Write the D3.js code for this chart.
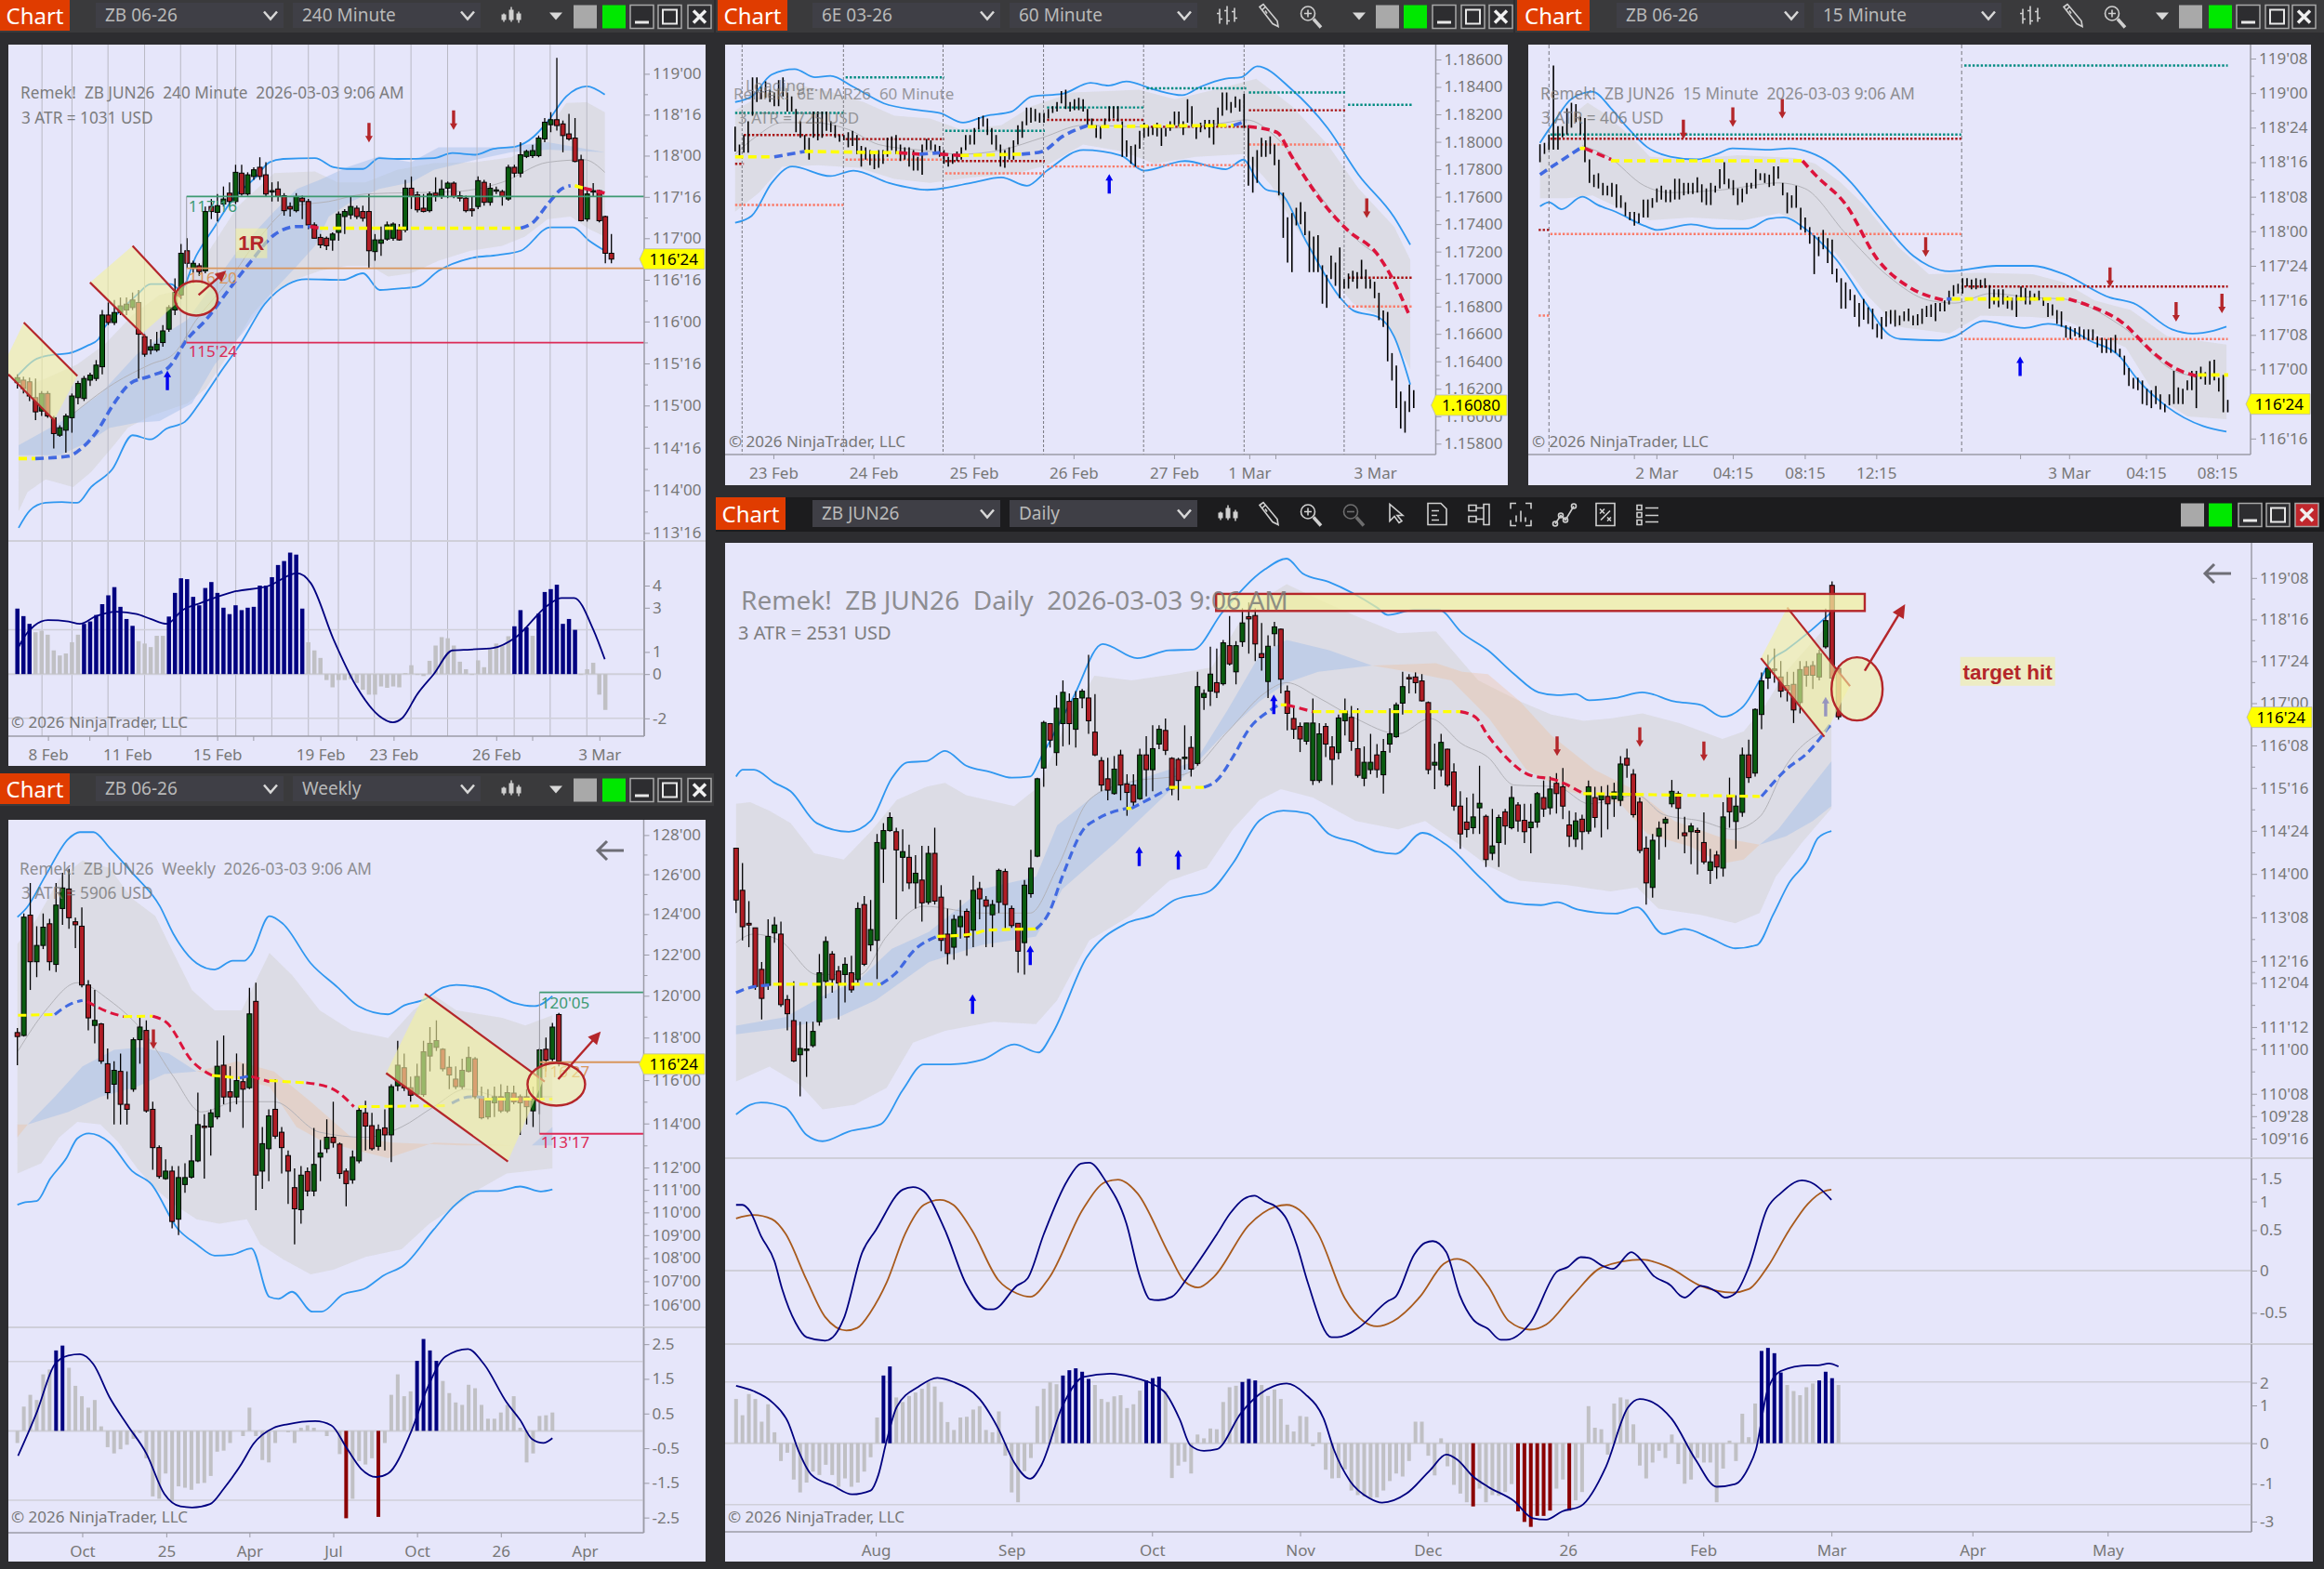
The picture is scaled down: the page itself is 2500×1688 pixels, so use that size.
<!DOCTYPE html>
<html>
<head>
<meta charset="utf-8">
<script src="https://cdn.jsdelivr.net/npm/d3@7"></script>
<style>
html,body{margin:0;padding:0;background:#2d2d30;}
svg{display:block;}
text{font-family:"Noto Sans",sans-serif;}
</style>
</head>
<body>
<svg id="screen" width="2500" height="1688"></svg>
<script>
// ---- 240 minute chart, rows are open, high, low, close
var h4Candles = [[115.30,115.40,115.23,115.36],[115.33,115.37,115.17,115.23],[115.31,115.36,115.08,115.14],[115.12,115.35,114.85,114.95],[114.96,115.20,114.90,115.17],[115.17,115.20,114.88,114.90],[114.88,114.90,114.51,114.69],[114.67,114.79,114.65,114.76],[114.73,114.93,114.46,114.90],[114.88,115.17,114.70,115.14],[115.12,115.32,115.04,115.29],[115.11,115.38,115.08,115.35],[115.33,115.42,115.26,115.39],[115.35,115.57,115.32,115.51],[115.49,116.17,115.40,116.11],[116.11,116.26,115.99,116.02],[116.02,116.29,115.99,116.14],[116.14,116.32,116.11,116.22],[116.17,116.32,116.11,116.24],[116.20,116.38,116.17,116.29],[116.26,116.41,115.35,115.88],[115.85,115.88,115.61,115.64],[115.69,115.82,115.64,115.73],[115.69,115.91,115.67,115.76],[115.78,115.99,115.73,115.92],[115.94,116.23,115.91,116.20],[116.17,116.55,116.11,116.38],[116.35,116.96,116.30,116.85],[116.88,117.03,116.67,116.73],[116.67,116.76,116.61,116.73],[116.70,116.73,116.58,116.63],[116.64,117.41,116.61,117.35],[117.41,117.50,117.26,117.35],[117.34,117.56,117.23,117.42],[117.44,117.65,117.41,117.50],[117.57,117.70,117.41,117.47],[117.47,117.91,117.44,117.82],[117.81,117.91,117.54,117.56],[117.56,117.82,117.54,117.79],[117.77,117.88,117.73,117.85],[117.88,118.00,117.73,117.77],[117.79,117.94,117.53,117.56],[117.59,117.70,117.47,117.60],[117.62,117.71,117.47,117.53],[117.54,117.57,117.30,117.36],[117.41,117.46,117.29,117.38],[117.36,117.57,117.34,117.53],[117.51,117.54,117.26,117.47],[117.47,117.50,117.14,117.19],[117.19,117.22,117.03,117.03],[117.04,117.08,116.91,116.95],[117.03,117.05,116.89,116.94],[117.01,117.10,116.88,117.08],[117.10,117.35,117.00,117.32],[117.29,117.38,117.08,117.35],[117.31,117.53,117.26,117.41],[117.39,117.42,117.26,117.29],[117.35,117.42,117.23,117.27],[117.35,117.56,116.67,116.88],[116.87,117.08,116.76,117.01],[116.97,117.17,116.82,117.01],[117.02,117.23,117.00,117.19],[117.03,117.22,117.00,117.20],[117.13,117.20,117.00,117.01],[117.13,117.73,117.10,117.63],[117.63,117.77,117.38,117.53],[117.55,117.59,117.34,117.37],[117.39,117.56,117.34,117.35],[117.36,117.59,117.34,117.56],[117.57,117.76,117.47,117.54],[117.53,117.73,117.50,117.62],[117.63,117.71,117.51,117.69],[117.69,117.71,117.51,117.53],[117.54,117.59,117.47,117.51],[117.51,117.54,117.34,117.36],[117.38,117.53,117.29,117.36],[117.41,117.77,117.38,117.72],[117.70,117.73,117.42,117.46],[117.46,117.69,117.42,117.63],[117.60,117.65,117.56,117.61],[117.59,117.61,117.42,117.53],[117.50,117.91,117.48,117.88],[117.88,117.91,117.76,117.81],[117.81,118.18,117.76,118.03],[118.01,118.09,117.99,118.07],[118.02,118.15,117.99,118.08],[118.02,118.26,118.00,118.23],[118.22,118.47,118.18,118.42],[118.39,118.54,118.30,118.45],[118.45,119.19,118.32,118.38],[118.40,118.44,118.06,118.26],[118.28,118.52,118.20,118.22],[118.23,118.47,117.94,117.95],[117.97,118.03,117.23,117.24],[117.26,117.62,117.23,117.56],[117.59,117.69,117.53,117.60],[117.60,117.61,117.22,117.24],[117.29,117.30,116.73,116.85],[116.85,117.08,116.73,116.78]];
var h4Upper = [[0,115.38],[2.8,115.57],[5.5,115.63],[8.5,115.65],[11.6,115.74],[13.5,115.82],[14.6,115.97],[16.9,116.14],[19.9,116.35],[22.2,116.48],[25.6,116.48],[27.2,116.41],[29.8,116.82],[32.9,117.17],[35.9,117.5],[39.7,117.76],[42,117.94],[44.3,117.98],[49.6,117.99],[52.7,117.88],[54.9,117.86],[57.6,117.86],[60.3,117.99],[63.3,117.98],[69.4,117.99],[72.5,118.05],[76.3,118.03],[79.3,118.1],[83.1,118.13],[86.1,118.25],[88.4,118.43],[91.5,118.73],[94.9,118.85],[97.9,118.75]];
var h4Lower = [[0.2,113.56],[2.1,113.77],[4.7,113.86],[7.4,113.87],[10,113.86],[12.3,114.05],[15.8,114.26],[19.2,114.67],[22.2,114.62],[24.9,114.75],[27.9,114.83],[30.6,115.08],[33.6,115.4],[37.4,115.79],[41.2,116.24],[45.1,116.48],[48.1,116.54],[54.2,116.53],[57.6,116.61],[60.4,116.41],[64.1,116.43],[66.7,116.45],[70.2,116.64],[75.5,116.79],[80.1,116.83],[83.9,116.88],[88.8,117.16],[92.6,117.16],[95.3,117],[97.9,116.88]];
var h4GrayTop = [[0.2,115.23],[4.7,115.35],[10,115.52],[14.6,115.76],[19.2,116.11],[23.7,116.35],[27.5,116.41],[31.4,116.82],[36.7,117.41],[42.8,117.81],[49.6,117.83],[53.4,117.7],[58,117.7],[63.3,117.85],[69.4,117.93],[76.3,117.94],[82.3,118],[86.9,118.18],[91.5,118.65],[94.9,118.66],[97.9,118.54]];
var h4GrayBot = [[0.2,113.76],[1.7,113.99],[4.7,114.14],[9.3,114.05],[12.3,114.23],[16.1,114.55],[18.4,114.76],[22.2,114.9],[28.3,115.05],[31.4,115.23],[35.2,115.64],[39,116.11],[42,116.35],[45.8,116.52],[50.4,116.64],[54.9,116.7],[58.8,116.7],[61.8,116.57],[65.6,116.61],[70.2,116.76],[75.5,116.88],[80.8,116.94],[84.6,117.05],[88.4,117.26],[92.2,117.29],[95.3,117.14],[97.9,117.05]];
var h4BlueTop = [[0.2,114.55],[7,114.82],[13.9,115.17],[19.9,115.64],[24.5,115.88],[28.3,116.05],[36.7,116.88],[42.8,117.35],[46.6,117.62],[50.4,117.73],[54.9,117.88],[60.3,118.01],[65.6,117.94],[70.2,118.12],[80.8,118.12],[88.4,118.18],[97.9,118.06]];
var h4BlueBot = [[0.2,114.43],[7,114.43],[11.6,114.58],[15.4,114.76],[19.9,114.82],[23.7,114.84],[29.1,115.05],[32.9,115.52],[37.4,115.88],[42.8,116.41],[46.6,116.7],[49.6,116.94],[51.9,117.29],[55.7,117.47],[60.3,117.62],[65.6,117.7],[69.4,117.85],[76.3,117.97],[82.3,118.06],[88.4,118.09],[97.9,118.06]];
var h4Mid = [["flat",[[0.2,114.39],[3,114.39]]],["up",[[3,114.39],[8.5,114.42],[10.8,114.52],[13.1,114.7],[16.1,115.05],[18.8,115.29],[22.2,115.38],[25.3,115.49],[28.3,115.82],[31.4,116.05],[35.2,116.41],[39,116.76],[42.8,117.07],[46.6,117.17],[48.8,117.17]]],["down",[[48.8,117.17],[50.4,117.15]]],["flat",[[50.4,117.15],[83.9,117.15]]],["up",[[83.9,117.15],[86.1,117.23],[88.4,117.44],[90.7,117.62],[92.2,117.66]]],["flat",[[92.9,117.66],[94.4,117.63]]],["down",[[94.4,117.63],[97.9,117.57]]]];
var h4Sma = [[8.5,114.88],[16.1,115.29],[22.2,115.52],[26,115.64],[29.8,116.05],[35.2,116.52],[40.5,117.05],[45.8,117.41],[51.9,117.47],[58,117.56],[73.2,117.59],[80.8,117.7],[88.4,117.94],[94.5,117.97],[97.9,117.82]];
var h4Hist = [2.96,2.62,2.27,1.89,1.96,1.78,1.07,0.84,0.93,1.44,1.78,2.27,2.38,2.67,3.16,3.56,3.93,3.04,2.49,2.18,1.49,1.38,1.22,1.73,1.73,2.6,3.67,4.33,4.29,3.49,3.11,3.89,4.16,3.67,3,2.71,3.11,2.89,3,3.04,4,4,4.38,4.93,5.11,5.49,5.4,2.96,1.44,1.07,0.73,-0.27,-0.6,-0.27,-0.27,-0.22,-0.4,-0.71,-0.93,-0.93,-0.56,-0.62,-0.56,-0.6,0.04,0.4,-0.04,-0.09,0.6,1.29,1.67,1.62,1.29,0.56,0.22,-0.04,0.62,0.31,1.11,1.38,1.29,1.71,2.16,2.89,2.11,1.73,2.73,3.71,3.84,4.04,2.27,2.49,2,-0.04,0.22,0.51,-0.93,-1.62];
var h4HistUp = [0,1,2,11,12,13,14,15,16,17,18,19,25,26,27,28,29,30,31,32,33,34,35,36,37,38,39,40,41,42,43,44,45,46,47,82,83,84,86,87,88,89,90,91,92];
var h4Line = [[0,1.11],[1.1,1.67],[2.8,2.18],[5.1,2.44],[8.5,2.38],[10.4,2.27],[13.1,2.62],[16.5,2.82],[19.9,2.71],[22.2,2.49],[24.9,2.27],[27.5,2.89],[30.6,3.22],[35.9,3.71],[42,4],[46.6,4.56],[48.9,4.11],[52.7,1.56],[56.5,-0.56],[60.3,-1.89],[62.6,-2.18],[64.1,-2],[66.7,-0.89],[69.4,0],[72.5,1.07],[75.5,1.11],[79.3,1.18],[83.1,1.67],[88.4,3.11],[90.7,3.44],[92.8,3.44],[96,2],[97.9,0.67]];
var h4Ticks = [119,118.5,118,117.5,117,116.5,116,115.5,115,114.5,114,113.5];
var h4TickLabels = ["119'00","118'16","118'00","117'16","117'00","116'16","116'00","115'16","115'00","114'16","114'00","113'16"];
var h4XTicks = [5.1,12,18.3,33.3,39.3,50.5,56.5,62.7,79.8,85.8,97];
var h4XLabels = ["8 Feb","","11 Feb","15 Feb","","19 Feb","","23 Feb","26 Feb","","3 Mar"];
var h4Sessions = [4.1,9.1,15.1,21.2,27.2,33.3,36.4,42.4,48.5,53.5,59.5,65.6,71.7,76.6,82.8,88.8,94.9];

// ---- 60 minute chart, rows are high, low
var m60Bars = [[1.1811,1.1793],[1.1798,1.1789],[1.1805,1.1792],[1.1815,1.1792],[1.1847,1.1819],[1.1847,1.1829],[1.1840,1.1831],[1.1844,1.1832],[1.1838,1.1829],[1.1836,1.1826],[1.1845,1.1826],[1.1847,1.1833],[1.1836,1.1822],[1.1833,1.1822],[1.1824,1.1807],[1.1815,1.1803],[1.1805,1.1794],[1.1803,1.1787],[1.1822,1.1803],[1.1822,1.1801],[1.1822,1.1803],[1.1822,1.1808],[1.1815,1.1807],[1.1812,1.1803],[1.1805,1.1800],[1.1805,1.1801],[1.1807,1.1796],[1.1808,1.1797],[1.1805,1.1791],[1.1797,1.1782],[1.1796,1.1787],[1.1794,1.1783],[1.1791,1.1780],[1.1794,1.1781],[1.1794,1.1784],[1.1803,1.1789],[1.1804,1.1794],[1.1805,1.1791],[1.1798,1.1786],[1.1796,1.1787],[1.1796,1.1782],[1.1794,1.1779],[1.1789,1.1779],[1.1798,1.1776],[1.1802,1.1794],[1.1801,1.1794],[1.1798,1.1791],[1.1797,1.1789],[1.1794,1.1784],[1.1789,1.1782],[1.1791,1.1784],[1.1793,1.1786],[1.1796,1.1787],[1.1805,1.1794],[1.1805,1.1798],[1.1810,1.1798],[1.1818,1.1809],[1.1819,1.1811],[1.1817,1.1805],[1.1810,1.1798],[1.1805,1.1794],[1.1798,1.1782],[1.1794,1.1781],[1.1796,1.1787],[1.1801,1.1787],[1.1812,1.1798],[1.1815,1.1803],[1.1825,1.1812],[1.1825,1.1814],[1.1824,1.1815],[1.1821,1.1814],[1.1821,1.1814],[1.1824,1.1817],[1.1826,1.1821],[1.1829,1.1822],[1.1837,1.1828],[1.1838,1.1824],[1.1829,1.1822],[1.1831,1.1823],[1.1832,1.1823],[1.1831,1.1822],[1.1824,1.1812],[1.1817,1.1810],[1.1812,1.1803],[1.1811,1.1802],[1.1817,1.1810],[1.1826,1.1815],[1.1826,1.1817],[1.1826,1.1815],[1.1815,1.1789],[1.1801,1.1789],[1.1797,1.1784],[1.1798,1.1782],[1.1808,1.1795],[1.1814,1.1803],[1.1811,1.1804],[1.1811,1.1805],[1.1814,1.1804],[1.1810,1.1797],[1.1810,1.1804],[1.1815,1.1808],[1.1822,1.1812],[1.1822,1.1811],[1.1815,1.1805],[1.1831,1.1814],[1.1826,1.1811],[1.1812,1.1802],[1.1814,1.1807],[1.1816,1.1809],[1.1816,1.1803],[1.1816,1.1798],[1.1825,1.1811],[1.1836,1.1819],[1.1836,1.1823],[1.1829,1.1821],[1.1833,1.1825],[1.1831,1.1822],[1.1835,1.1810],[1.1812,1.1768],[1.1789,1.1763],[1.1794,1.1770],[1.1803,1.1789],[1.1801,1.1789],[1.1804,1.1791],[1.1798,1.1783],[1.1787,1.1761],[1.1763,1.1730],[1.1745,1.1712],[1.1748,1.1705],[1.1752,1.1739],[1.1756,1.1740],[1.1749,1.1732],[1.1735,1.1705],[1.1731,1.1705],[1.1732,1.1705],[1.1710,1.1682],[1.1703,1.1679],[1.1717,1.1700],[1.1712,1.1695],[1.1723,1.1686],[1.1700,1.1693],[1.1704,1.1693],[1.1706,1.1698],[1.1705,1.1693],[1.1714,1.1700],[1.1707,1.1693],[1.1700,1.1693],[1.1698,1.1686],[1.1690,1.1670],[1.1677,1.1665],[1.1676,1.1640],[1.1646,1.1626],[1.1637,1.1606],[1.1618,1.1591],[1.1611,1.1588],[1.1623,1.1603],[1.1619,1.1606]];
var m60Upper = [[0,1.1829],[3.8,1.1833],[8.4,1.1849],[13.7,1.1853],[18.4,1.1847],[21.9,1.1848],[27.2,1.1840],[34.2,1.1828],[42.4,1.1823],[47.1,1.1821],[52.4,1.1814],[57.7,1.1819],[63.5,1.1822],[68.2,1.1833],[75.3,1.1835],[81.7,1.1843],[85.8,1.1841],[89.9,1.1844],[96.4,1.1838],[102.8,1.1834],[106.9,1.1840],[112.8,1.1846],[116.3,1.1847],[120,1.1855],[128,1.1838],[136.2,1.1810],[143.3,1.1776],[151.5,1.1745],[155.2,1.1725]];
var m60Lower = [[0,1.1741],[3.8,1.1746],[8.4,1.1770],[13.1,1.1782],[21.9,1.1775],[27.2,1.1779],[35.4,1.1770],[44.2,1.1765],[54.2,1.1770],[61.2,1.1774],[67.1,1.1768],[71.7,1.1779],[80,1.1794],[88.7,1.1790],[94,1.1779],[103.4,1.1786],[112.8,1.1780],[116.9,1.1787],[119.8,1.1773],[122.2,1.1765],[125.1,1.1763],[131.5,1.1726],[139.2,1.1686],[142.1,1.1677],[148,1.1672],[151.5,1.1658],[155.2,1.1623]];
var m60GrayTop = [[0,1.1823],[8.4,1.1838],[13.7,1.1842],[22.5,1.1836],[29.5,1.1829],[36.6,1.1819],[44.8,1.1817],[51.8,1.1809],[61.2,1.1812],[68.2,1.1826],[77.6,1.1836],[85.8,1.1837],[92.8,1.1838],[101.1,1.1831],[111.6,1.1839],[119.8,1.1846],[128,1.1826],[136.2,1.1798],[143.3,1.1766],[151.5,1.1738],[155.2,1.1714]];
var m60GrayBot = [[0,1.1749],[5.5,1.1763],[10.8,1.1782],[19,1.1783],[28.4,1.1781],[36.6,1.1773],[44.8,1.1770],[54.2,1.1774],[64.7,1.1777],[71.7,1.1783],[80,1.1798],[89.3,1.1793],[96.4,1.1784],[105.7,1.1789],[116.9,1.1791],[123.3,1.1768],[128,1.1742],[133.9,1.1714],[142.1,1.1682],[149.1,1.1672],[155.2,1.1634]];
var m60Mid = [["flat",[[0,1.1789],[9,1.1789]]],["up",[[9,1.1789],[16,1.1793]]],["flat",[[16,1.1793],[37.7,1.1792]]],["down",[[37.7,1.1792],[42.4,1.1791]]],["up",[[42.4,1.1791],[47.1,1.1792]]],["down",[[47.1,1.1791],[51.8,1.1790]]],["flat",[[51.8,1.1790],[65.9,1.1791]]],["up",[[65.9,1.1791],[70.6,1.1793],[75.3,1.1804],[81.1,1.1812]]],["flat",[[81.1,1.1811],[114.6,1.1812]]],["up",[[114.6,1.1812],[117.5,1.1815]]],["down",[[118,1.1811],[124.5,1.1807],[128,1.1789],[135,1.1756],[141,1.1735],[147.4,1.1719],[150.3,1.1705],[155.2,1.1672]]]];
var m60Sma = [[0,1.1791],[4.9,1.1804],[10.8,1.1814],[17.8,1.1814],[26,1.1809],[33,1.1798],[42.4,1.1794],[51.8,1.1791],[61.2,1.1794],[70.6,1.1803],[80,1.1812],[91.7,1.1811],[101.1,1.1810],[112.8,1.1814],[117.5,1.1816],[124.5,1.1803],[133.9,1.1763],[142.1,1.1731],[148,1.1717]];
var m60Levels = [["high",25.4,48.1,1.1847],["high",0,24.9,1.1821],["high",48.3,71.2,1.1808],["high",71.7,94,1.1825],["high",94.6,117.5,1.1839],["high",118.1,140.3,1.1836],["high",140.9,155.6,1.1827],["pivot",0,2,1.1784],["pivot",2,24.9,1.1805],["pivot",25.4,48.1,1.1802],["pivot",48.3,71.2,1.1786],["pivot",71.7,94,1.1816],["pivot",94.6,117.5,1.1811],["pivot",118.1,140.3,1.1823],["pivot",140.9,155.6,1.1701],["low",0,24.9,1.1754],["low",25.4,48.1,1.1787],["low",48.3,71.2,1.1777],["low",71.7,94,1.1782],["low",94.6,117.5,1.1783],["low",118.1,140.3,1.1798],["low",140.9,155.6,1.1680]];
var m60Ticks = [1.186,1.184,1.182,1.18,1.178,1.176,1.174,1.172,1.17,1.168,1.166,1.164,1.162,1.16,1.158];
var m60TickLabels = ["1.18600","1.18400","1.18200","1.18000","1.17800","1.17600","1.17400","1.17200","1.17000","1.16800","1.16600","1.16400","1.16200","1.16000","1.15800"];
var m60XTicks = [8.8,31.8,54.9,77.8,100.9,118.2,124.2,147.1];
var m60XLabels = ["23 Feb","24 Feb","25 Feb","26 Feb","27 Feb","1 Mar","","3 Mar"];
var m60Sessions = [1.6,24.9,47.8,70.9,93.9,117,140];
var m60ArrowsUp = [[86,1.1769]];
var m60ArrowsDown = [[145.2,1.1752]];

// ---- 15 minute chart, rows are high, low
var m15Bars = [[118.63,118.50],[118.64,118.56],[118.70,118.59],[119.20,118.59],[118.76,118.59],[118.76,118.68],[118.89,118.70],[118.93,118.75],[118.92,118.79],[118.83,118.70],[118.82,118.50],[118.52,118.35],[118.41,118.32],[118.42,118.31],[118.35,118.26],[118.33,118.26],[118.35,118.25],[118.34,118.17],[118.26,118.17],[118.21,118.11],[118.14,118.08],[118.14,118.04],[118.13,118.06],[118.23,118.10],[118.23,118.10],[118.24,118.17],[118.31,118.21],[118.33,118.23],[118.30,118.21],[118.30,118.21],[118.38,118.23],[118.38,118.23],[118.35,118.26],[118.35,118.27],[118.35,118.27],[118.39,118.28],[118.34,118.21],[118.31,118.19],[118.35,118.19],[118.33,118.28],[118.45,118.31],[118.50,118.34],[118.38,118.31],[118.37,118.26],[118.31,118.19],[118.31,118.21],[118.35,118.27],[118.35,118.31],[118.45,118.31],[118.42,118.37],[118.42,118.35],[118.41,118.32],[118.47,118.33],[118.47,118.38],[118.35,118.26],[118.28,118.13],[118.26,118.17],[118.33,118.17],[118.17,118.01],[118.10,117.99],[118.03,117.91],[117.97,117.69],[117.96,117.82],[118.01,117.87],[117.95,117.77],[117.94,117.69],[117.73,117.63],[117.66,117.44],[117.63,117.44],[117.58,117.50],[117.54,117.38],[117.48,117.31],[117.51,117.36],[117.45,117.33],[117.44,117.29],[117.33,117.23],[117.38,117.22],[117.42,117.31],[117.43,117.33],[117.43,117.31],[117.39,117.32],[117.42,117.35],[117.44,117.35],[117.39,117.32],[117.40,117.32],[117.44,117.33],[117.46,117.38],[117.47,117.38],[117.48,117.35],[117.48,117.42],[117.50,117.42],[117.57,117.47],[117.61,117.53],[117.62,117.55],[117.66,117.55],[117.66,117.60],[117.65,117.58],[117.66,117.58],[117.65,117.59],[117.66,117.59],[117.61,117.44],[117.58,117.47],[117.58,117.45],[117.58,117.47],[117.53,117.44],[117.52,117.43],[117.54,117.38],[117.60,117.50],[117.59,117.47],[117.57,117.47],[117.55,117.50],[117.57,117.50],[117.52,117.46],[117.48,117.38],[117.47,117.39],[117.43,117.33],[117.42,117.31],[117.32,117.23],[117.31,117.22],[117.30,117.24],[117.31,117.23],[117.29,117.22],[117.29,117.21],[117.29,117.21],[117.24,117.16],[117.23,117.12],[117.22,117.12],[117.23,117.12],[117.25,117.12],[117.15,117.09],[117.10,116.96],[117.01,116.88],[116.94,116.86],[116.94,116.85],[116.92,116.75],[116.86,116.74],[116.85,116.72],[116.88,116.75],[116.82,116.71],[116.75,116.69],[116.82,116.74],[116.99,116.75],[116.87,116.75],[116.86,116.75],[116.92,116.85],[116.99,116.85],[116.99,116.72],[117.02,116.93],[116.98,116.89],[117.06,116.89],[117.07,116.92],[116.94,116.84],[116.96,116.69],[116.78,116.69]];
var m15Upper = [[0,118.64],[3.1,118.79],[7.1,118.96],[11.7,119.01],[15.8,118.89],[19.2,118.76],[23.8,118.61],[29,118.54],[34.8,118.52],[39.4,118.56],[42.8,118.6],[50.9,118.59],[55.5,118.6],[60.1,118.57],[64.7,118.49],[69.3,118.35],[75,118.12],[83.1,117.82],[86.5,117.75],[91.1,117.71],[101.5,117.75],[109.6,117.75],[116.5,117.69],[126.8,117.52],[132,117.48],[140.6,117.29],[145.2,117.26],[149.8,117.28],[152.7,117.31]];
var m15Lower = [[0,118.18],[2,118.21],[4.8,118.16],[9.4,118.25],[12.9,118.19],[16.9,118.14],[23.2,118.04],[26.1,118.01],[33.6,118.05],[39.4,118.02],[46.3,118.02],[50.9,118.09],[54.3,118.1],[58.9,118.02],[65.8,117.8],[72.7,117.47],[77.3,117.26],[80.2,117.22],[88.8,117.21],[92.3,117.24],[98.6,117.35],[107.8,117.3],[113,117.33],[116.5,117.31],[122.2,117.21],[129.1,117.09],[132.6,116.94],[139.5,116.73],[147.5,116.59],[152.7,116.55]];
var m15GrayTop = [[0,118.52],[3.7,118.75],[10.6,118.93],[14,118.86],[19.8,118.7],[24.4,118.54],[32.5,118.52],[44,118.55],[56.6,118.53],[61.2,118.49],[67,118.35],[72.7,118.17],[79.6,117.89],[86.5,117.69],[98,117.7],[109.6,117.69],[116.5,117.63],[123.4,117.5],[131.4,117.43],[139.5,117.24],[152.7,117.18]];
var m15GrayBot = [[0,118.24],[6,118.24],[11.7,118.26],[17.5,118.17],[24.4,118.08],[33.6,118.1],[45.1,118.08],[53.2,118.13],[58.9,118.06],[65.8,117.84],[72.7,117.54],[79.6,117.31],[91.1,117.26],[98,117.39],[109.6,117.38],[116.5,117.36],[123.4,117.26],[130.3,117.16],[137.2,116.8],[144.1,116.66],[152.7,116.64]];
var m15Mid = [["up",[[0,118.41],[3.7,118.49],[8.9,118.6]]],["flat",[[8.9,118.6],[10,118.6]]],["down",[[10,118.6],[15.8,118.52]]],["flat",[[15.8,118.51],[58.4,118.51]]],["down",[[58.4,118.51],[61.2,118.41],[68.1,118.19],[75,117.8],[81.9,117.6],[90,117.5]]],["up",[[90.5,117.51],[91.6,117.51]]],["flat",[[91.6,117.51],[117.6,117.51]]],["down",[[117.6,117.51],[122.2,117.46],[129.1,117.35],[137.2,117.1],[141.8,117],[146.4,116.95]]],["flat",[[146.4,116.96],[153.1,116.96]]]];
var m15Sma = [[9.4,118.62],[15.2,118.54],[23.2,118.33],[29,118.28],[40.5,118.3],[53.2,118.35],[58.9,118.31],[68.1,117.98],[77.3,117.68],[86.5,117.5],[92.3,117.48],[100.3,117.55],[109.6,117.52],[116.5,117.51],[129.1,117.32],[141.8,116.98],[146.4,116.95]];
var m15Levels = [["high",94.4,153,119.2],["high",2.3,93.7,118.7],["pivot",2.3,93.7,118.67],["pivot",94.4,153,117.6],["pivot",-0.3,2,118.01],["low",2.3,93.7,117.98],["low",94.4,153,117.22],["low",-0.3,2,117.39]];
var m15Ticks = [119.25,119,118.75,118.5,118.25,118,117.75,117.5,117.25,117,116.5];
var m15TickLabels = ["119'08","119'00","118'24","118'16","118'08","118'00","117'24","117'16","117'08","117'00","116'16"];
var m15XTicks = [20.9,25.9,42.9,58.9,74.8,106.8,117.7,134.8,150.6];
var m15XLabels = ["","2 Mar","04:15","08:15","12:15","","3 Mar","04:15","08:15"];
var m15Sessions = [2,93.8];
var m15ArrowsUp = [[106.8,117.02]];
var m15ArrowsDown = [[31.9,118.74],[42.9,118.83],[53.9,118.89],[85.8,117.89],[126.8,117.67],[141.5,117.42],[151.7,117.48]];

// ---- weekly chart
var wkCandles = [[118.24,118.46,116.70,118.05],[118.10,124.03,118.05,123.85],[123.95,125.56,120.28,121.65],[121.65,123.4,120.9,122.45],[122.45,124.03,122.27,123.35],[123.52,123.77,121.22,121.65],[121.52,125.56,121.15,124.45],[124.28,126.08,123.47,125.31],[125.26,126.28,123.27,123.82],[123.62,123.82,122.32,123.47],[123.40,124.33,120.4,120.52],[120.52,120.75,118.35,118.94],[118.58,120.28,117.73,118.82],[118.65,118.7,116.77,116.89],[116.77,117.49,115.12,115.42],[115.81,116.89,113.95,116.46],[116.41,117.25,113.95,114.88],[114.88,116.41,113.95,114.65],[115.58,118.0,115.46,117.9],[117.9,118.94,116.77,118.5],[118.34,118.82,114.5,114.58],[114.65,115.0,111.9,112.9],[112.9,113.0,111.5,111.6],[111.5,112.37,111.45,111.84],[111.84,112.07,109.3,109.6],[109.7,112.07,109.0,111.55],[111.24,112.19,110.87,111.55],[111.57,113.48,111.5,112.3],[112.3,115.42,112.24,113.95],[113.88,114.42,111.5,113.84],[113.84,114.65,112.54,114.49],[114.3,117.86,114.19,116.65],[116.7,118.1,114.88,115.22],[115.46,116.65,114.53,115.22],[115.22,117.25,114.88,115.98],[115.93,116.77,113.8,115.58],[115.65,120.38,115.58,119.13],[119.73,120.63,110.1,111.66],[111.84,113.84,111.05,113.08],[112.85,114.65,111.39,114.35],[114.65,116.05,113.3,113.42],[113.6,113.84,111.73,112.9],[112.54,112.77,110.38,111.84],[111.1,111.96,108.6,110.16],[110.12,112.07,109.5,111.66],[111.82,112.0,110.72,110.95],[110.95,113.8,110.72,112.14],[112.47,113.25,111.39,112.66],[112.85,114.19,112.66,113.37],[113.37,115.0,112.9,113.13],[113.06,113.13,111.5,111.73],[111.84,111.96,110.27,111.28],[111.45,112.77,111.28,112.47],[112.3,114.77,112.19,114.6],[114.49,115.05,112.77,113.88],[113.9,114.49,112.77,112.85],[112.96,113.95,112.77,113.72],[113.8,114.65,112.77,113.48],[113.48,115.81,112.24,115.7],[115.74,117.85,115.5,116.7],[116.58,117.25,115.5,115.65],[115.65,116.17,115.0,115.3],[115.35,116.77,115.23,116.17],[115.33,117.85,115.23,117.33],[117.13,118.5,116.41,117.73],[117.54,118.82,117.37,117.86],[117.45,117.5,116.41,116.53],[116.6,117.13,115.58,116.24],[116.05,116.65,115.58,115.7],[115.7,117.0,115.58,116.46],[116.41,117.57,116.36,117.06],[117.0,117.08,115.12,115.23],[115.23,115.7,114.19,114.26],[114.3,115.58,114.19,115.05],[114.95,115.7,114.3,115.23],[115.23,115.81,114.49,114.58],[114.58,115.74,114.49,115.42],[115.4,115.74,114.88,115.0],[115.23,115.33,113.48,114.95],[115.23,115.58,113.95,114.77],[114.58,115.7,113.84,115.12],[115.12,117.5,114.42,117.42],[117.45,118.0,116.41,116.94],[116.99,118.7,116.89,118.5],[119.1,119.18,116.65,116.89]];
var wkUpper = [[0,123.85],[1.4,124.3],[4.4,125.95],[7.9,127.8],[9.7,128.15],[11.8,128.15],[14.3,127.35],[17.8,126.08],[22.1,124.4],[24.2,123.02],[27.8,121.58],[30.6,121.27],[33.4,121.7],[35.2,121.7],[36.3,122.03],[39.1,123.9],[41.2,123.52],[45.5,121.58],[49.7,120.4],[52.9,119.5],[57.5,119.11],[60,119.54],[63.2,119.83],[66,120.4],[68.1,120.52],[72.7,120.32],[77,119.66],[80.2,119.5],[83,119.98]];
var wkLower = [[0,110.34],[1.2,110.45],[3,110.5],[5.1,111.5],[7.6,112.42],[9.3,113.32],[11.1,113.55],[14.3,113.13],[17.8,111.84],[20.7,111.28],[24.9,109.27],[27.8,108.6],[30.6,108.11],[33.4,108.16],[36.3,108.42],[39.1,106.33],[40.5,106.25],[42.6,106.55],[45.8,105.7],[47.2,105.7],[50.4,106.42],[54,106.7],[56.8,107.25],[60,107.7],[64.6,109.25],[68.1,110.38],[71.7,110.95],[74.5,110.95],[78,111.15],[81.2,110.93],[83,111.02]];
var wkGrayTop = [[0,122.53],[3,123.77],[6.5,125.77],[10.1,126.7],[14.3,126.32],[17.8,124.77],[21.4,123.9],[23.5,122.53],[27.1,120.27],[30.6,119.3],[34.8,119.3],[39.1,122.08],[42.6,121],[46.9,119.3],[51.8,118.34],[57.5,117.98],[61.4,119.3],[64.6,120.02],[68.1,119.3],[75.2,118.94],[78.8,118.58],[83,119.06]];
var wkGrayBot = [[0,111.73],[3.7,112.19],[6.5,113.37],[9.3,114.07],[12.9,113.95],[15.7,113.13],[18.6,111.96],[21.4,111.05],[24.2,110.38],[27.8,109.7],[31.3,109.5],[35.6,109.7],[37.7,108.6],[41.2,107.95],[45.5,107.3],[49,107.5],[54,108.05],[59.6,108.38],[63.9,109.5],[67.4,110.16],[71.7,111.05],[75.9,111.73],[83,111.96]];
var wkBlueClouds = [[[[1.6,113.95],[5.8,115.23],[10.1,116.65],[15,117.42],[19.3,117.54],[23.5,117.25],[27.8,116.41]],[[1.6,113.95],[7.9,114.53],[12.9,115.23],[18.6,115.7],[22.8,116.29],[27.8,116.41]]],[[[79.8,113],[83,113.84]],[[79.8,113],[83,113]]]];
var wkOrangeClouds = [[[[0,113.95],[1.6,113.95]],[[0,113.37],[1.6,113.95]]],[[[27.8,116.41],[34.1,116.89],[39.8,116.41],[45.5,115],[51.8,113.37],[58.2,113.13],[68.8,113],[76.6,113]],[[27.8,116.41],[32.7,116.17],[39.1,115.7],[43.3,113.84],[46.9,113.25],[51.1,112.9],[57.5,112.42],[64.6,113.13],[76.6,113]]]];
var wkMid = [["flat",[[0.1,119.06],[5.8,119.1]]],["up",[[5.8,119.1],[7.9,119.55],[10.1,119.78]]],["down",[[10.8,119.73],[13.7,119.27],[16.5,119]]],["flat",[[16.5,119],[21,119.02]]],["down",[[21,119.02],[23.2,118.7],[27.1,116.89],[30.2,116.22]]],["flat",[[30.2,116.22],[34.5,116.1]]],["up",[[34.5,116.1],[36.3,116.22]]],["down",[[36.3,116.17],[39.1,115.93]]],["flat",[[39.1,115.98],[44.8,115.88]]],["down",[[44.8,115.88],[49,115.58],[52.2,114.77]]],["flat",[[52.9,114.77],[66.7,114.82]]],["up",[[67.4,114.93],[70.3,115.23],[72.4,115.2]]],["flat",[[72.4,115.12],[83,115.12]]]];
var wkSma = [[0.1,117.37],[4.4,119.3],[9.3,120.63],[14.3,119.78],[20,118.1],[24.2,116.17],[28.5,114.53],[34.1,115],[39.8,115],[46.9,113.6],[54,113.37],[59.6,113.84],[64.6,114.77],[69.5,115.58],[75.2,115.23],[83,115.23]];
var wkHist = [-0.35,0.7,1.04,0.89,1.63,1.77,2.32,2.46,1.82,1.3,1,0.67,0.89,0.13,-0.47,-0.65,-0.53,-0.4,-0.23,-0.06,-0.79,-1.89,-1.96,-1.23,-2.04,-1.6,-1.64,-1.7,-1.52,-1.5,-1.3,-0.6,-0.57,-0.35,0,-0.15,0.67,-0.15,-0.84,-0.91,-0.35,0,-0.04,-0.35,0.09,0.16,0.09,0,-0.15,0,-0.67,-2.52,-1.96,-0.87,-0.97,-0.79,-2.48,-0.35,1.04,1.63,1,1.14,2.02,2.65,2.32,2.02,1.44,1.09,0.82,0.75,1.33,1.23,0.75,0.35,0.35,0.53,0.75,1,0.09,-0.91,-0.65,0.43,0.45,0.53];
var wkHistUp = [6,7,62,63,64,65];
var wkHistDown = [51,56];
var wkLine = [[0.1,-0.72],[3,0.53],[5.8,1.92],[7.9,2.17],[9.7,2.21],[11.8,1.92],[14.3,0.97],[17.1,0.16],[20,-0.65],[22.8,-1.82],[25.3,-2.18],[27.1,-2.21],[29.9,-2.11],[32,-1.67],[34.8,-0.94],[36.6,-0.38],[39.8,0.09],[41.9,0.19],[46.2,0.28],[48.7,0.16],[51.1,-0.5],[53.3,-1.09],[55.7,-1.33],[57.5,-1.23],[61,-0.06],[63.5,1.19],[66.4,2.14],[69.9,2.36],[72.4,1.92],[75.9,0.82],[78,0.31],[79.8,-0.23],[81.6,-0.35],[83,-0.21]];
var wkTicks = [128,126,124,122,120,118,116,114,112,111,110,109,108,107,106];
var wkTickLabels = ["128'00","126'00","124'00","122'00","120'00","118'00","116'00","114'00","112'00","111'00","110'00","109'00","108'00","107'00","106'00"];
var wkXTicks = [10.06,23.1,36,49,62,75,88];
var wkXLabels = ["Oct","25","Apr","Jul","Oct","26","Apr"];

// ---- daily chart
var dCandles = [[114.50,114.50,113.36,113.59],[113.76,114.24,112.88,113.12],[113.18,113.57,112.76,113.15],[113.10,113.10,112.01,112.07],[112.37,112.50,111.49,111.86],[112.09,113.25,112.01,112.95],[113.01,113.29,112.84,113.15],[112.99,113.21,111.71,111.75],[111.84,111.92,111.30,111.59],[111.47,112.16,110.74,110.76],[110.87,111.45,110.14,110.98],[110.95,111.45,110.48,110.97],[111.03,111.45,111.0,111.28],[111.45,112.64,111.38,112.31],[112.16,112.95,111.86,112.86],[112.64,112.69,111.96,112.19],[112.34,112.43,111.49,112.13],[112.28,112.58,111.79,112.46],[112.31,112.61,111.96,112.01],[112.19,113.55,112.14,113.44],[113.51,113.66,112.43,112.46],[112.80,113.59,112.69,113.07],[112.88,114.75,112.20,114.60],[114.49,114.94,113.89,114.81],[114.81,115.13,114.79,115.04],[114.79,114.86,113.25,114.47],[114.34,114.83,113.74,114.44],[114.34,114.56,113.78,113.89],[113.89,114.38,113.44,114.06],[113.94,114.54,113.21,113.54],[113.55,114.54,113.51,114.41],[114.41,114.86,113.51,113.57],[113.64,113.85,112.69,112.88],[112.99,113.44,112.46,112.65],[112.76,113.33,112.54,113.25],[113.12,113.59,112.91,113.30],[113.39,113.44,112.61,112.94],[113.06,114.02,112.76,113.76],[113.79,113.91,113.25,113.61],[113.59,113.66,112.76,113.48],[113.33,113.59,112.76,113.51],[113.55,114.14,113.36,114.11],[114.09,114.14,113.09,113.51],[113.44,113.49,113.10,113.14],[113.18,113.18,112.31,112.69],[112.84,113.94,112.28,113.85],[113.70,114.47,113.63,114.15],[114.36,115.74,114.34,115.72],[115.91,116.74,115.58,116.71],[116.69,116.70,116.27,116.40],[116.18,117.19,115.95,116.96],[116.69,117.45,116.29,117.24],[117.08,117.22,116.32,116.69],[116.59,117.26,116.27,117.13],[117.14,117.30,116.96,117.26],[117.14,117.90,116.51,116.74],[116.54,117.21,116.12,116.14],[116.04,116.10,115.50,115.61],[115.72,116.09,115.34,115.52],[115.46,116.12,115.44,115.89],[116.14,116.23,115.34,115.61],[115.63,115.80,115.07,115.48],[115.61,115.80,115.24,115.31],[115.37,116.25,115.35,116.14],[116.14,116.47,115.41,115.88],[115.88,116.66,115.50,116.25],[116.33,116.66,116.24,116.59],[116.57,116.78,116.14,116.22],[116.08,116.10,115.43,115.54],[116.06,116.09,115.34,115.69],[116.09,116.66,115.88,116.10],[116.27,116.47,115.76,115.89],[115.99,117.60,115.95,117.34],[117.15,117.29,116.93,117.22],[117.26,118.04,117.0,117.56],[117.41,118.01,117.14,117.24],[117.39,118.16,117.36,118.11],[118.06,118.58,117.71,117.74],[117.60,118.14,117.38,118.06],[118.13,118.72,118.04,118.46],[118.57,118.82,117.92,118.53],[118.59,118.72,117.79,118.09],[117.92,118.46,117.62,117.85],[117.43,118.24,117.14,118.05],[118.27,118.48,118.05,118.39],[118.35,118.36,117.22,117.47],[117.26,117.36,116.57,116.87],[116.78,117.0,116.42,116.59],[116.64,116.71,116.19,116.42],[116.38,116.70,116.32,116.70],[115.69,117.13,115.61,116.70],[115.69,116.70,115.65,116.51],[116.64,116.70,116.10,116.33],[116.28,116.47,115.61,116.06],[116.18,116.85,116.06,116.79],[116.74,117.13,116.48,116.91],[116.80,117.0,116.21,116.38],[116.25,116.96,115.74,115.78],[115.73,116.29,115.59,116.01],[115.88,116.51,115.80,116.01],[116.14,116.33,115.74,115.88],[115.79,116.42,115.46,116.20],[116.33,116.96,116.18,116.51],[116.46,117.06,116.44,117.02],[117.05,117.60,116.85,117.34],[117.50,117.56,117.22,117.48],[117.51,117.59,117.22,117.41],[117.44,117.56,117.08,117.09],[117.06,117.08,115.80,115.88],[115.96,116.34,115.54,116.01],[115.88,116.51,115.76,116.36],[116.24,116.25,115.58,115.61],[115.84,115.99,115.16,115.24],[115.24,115.50,114.49,114.75],[114.96,115.39,114.69,114.83],[114.86,115.46,114.75,115.05],[115.21,115.95,114.75,115.29],[115.06,115.09,114.17,114.30],[114.41,115.19,114.29,114.54],[114.60,115.09,114.17,115.04],[115.14,115.19,114.56,114.89],[114.86,115.59,114.83,115.39],[115.26,115.31,114.79,114.98],[114.99,115.28,114.59,114.79],[114.86,115.28,114.41,114.96],[114.96,115.49,114.86,115.46],[115.39,115.69,115.05,115.19],[115.21,115.76,115.09,115.54],[115.64,115.82,115.11,115.46],[115.58,115.91,115.01,115.24],[114.91,115.16,114.52,114.71],[114.66,115.13,114.52,114.98],[115.01,115.09,114.47,114.79],[114.80,115.69,114.75,115.58],[115.39,115.58,114.86,115.04],[115.35,115.59,114.69,115.45],[115.41,115.61,114.83,115.28],[115.37,115.65,115.05,115.49],[115.34,116.12,115.24,115.98],[116.08,116.25,115.74,115.96],[115.80,115.89,115.04,115.09],[115.31,115.39,114.41,114.46],[114.50,114.71,113.51,113.89],[113.81,114.75,113.63,114.64],[114.71,114.97,114.30,114.85],[114.94,115.05,114.52,115.01],[115.28,115.70,115.22,115.50],[115.46,115.50,114.66,115.20],[114.77,115.05,114.41,114.72],[114.79,114.94,114.22,114.89],[114.81,114.86,114.04,114.78],[114.60,115.13,114.22,114.26],[114.11,114.49,113.87,114.26],[114.38,114.45,113.96,114.17],[114.15,115.31,114.0,115.05],[115.43,115.74,114.86,115.14],[114.97,115.43,114.49,115.24],[115.13,116.27,115.05,116.14],[116.14,116.41,115.65,115.74],[115.82,116.96,115.76,116.94],[116.85,117.59,116.59,117.44],[117.49,117.90,117.30,117.66],[117.65,118.01,117.41,117.64],[117.51,117.79,117.15,117.26],[117.36,117.60,117.08,117.28],[117.38,117.60,116.70,116.93],[117.06,117.79,116.87,117.64],[117.69,117.79,117.34,117.54],[117.71,117.79,117.30,117.54],[117.51,117.99,117.45,117.92],[118.04,118.71,118.01,118.50],[119.12,119.19,117.45,117.49],[117.66,117.71,116.76,116.81]];
var dUpper = [[0,115.76],[1,115.88],[2.8,115.88],[6,115.65],[8.5,115.5],[12.6,114.94],[17.6,114.79],[21,114.98],[24.3,115.73],[26.8,116.01],[29.7,116.03],[32.6,116.21],[35.9,115.95],[39.7,115.84],[43,115.74],[45.9,115.76],[47.6,116.1],[52.6,117.15],[57.2,118.09],[62.6,117.84],[67.6,117.98],[71.3,117.99],[75.9,118.65],[82.5,119.4],[85.9,119.59],[88.4,119.33],[92.5,119.18],[100,118.73],[101.7,118.6],[105.8,118.69],[109.6,118.69],[113.3,118.28],[117.3,117.98],[121.4,117.56],[125.2,117.24],[128.1,117.19],[131,117.21],[133.1,117.1],[137.2,117.14],[141.4,117.24],[146.4,117.08],[150.5,117.02],[153.9,116.81],[157.2,117],[159.7,117.45],[161.4,117.79],[163.8,117.98],[167.2,118.28],[170.9,118.65]];
var dLower = [[0,109.82],[2.2,109.99],[3.9,110.03],[7.7,109.94],[11,109.46],[13.5,109.35],[17.6,109.52],[22.6,109.65],[26,110.25],[29.3,110.7],[33.4,110.7],[38.4,110.78],[43.4,111.05],[47.2,110.91],[49.3,111.23],[54.7,112.58],[60.9,113.18],[65.1,113.33],[68.4,113.59],[73.8,113.74],[77.5,114.23],[81.7,114.99],[85.4,115.16],[89.2,115.11],[92.5,114.75],[96.7,114.6],[100,114.44],[102.9,114.4],[107.1,114.77],[110.8,114.56],[116.6,113.93],[120.6,113.55],[125.6,113.5],[128.1,113.55],[131.4,113.42],[137.2,113.35],[140.6,113.46],[144.7,112.99],[148,113.08],[152.2,112.91],[155.9,112.74],[159.3,112.8],[161.8,113.33],[164.3,113.89],[167.2,114.3],[168.8,114.68],[170.9,114.8]];
var dGrayTop = [[0,115.28],[2.2,115.31],[5.2,115.16],[8.5,114.94],[12.2,114.41],[16.8,114.3],[21,114.79],[25.1,115.35],[29.7,115.58],[32.6,115.65],[35.9,115.43],[43.4,115.24],[47.2,115.58],[50.9,116.55],[55.9,117.53],[61.7,117.45],[68.4,117.56],[74.2,117.68],[80,118.73],[85.9,119.14],[90.8,118.88],[96.7,118.58],[103.3,118.28],[109.2,118.31],[115.8,117.45],[122.3,117.08],[127.2,116.85],[132.2,116.74],[136.4,116.78],[141.4,116.87],[147.2,116.7],[153.9,116.42],[157.2,116.55],[160.5,117],[163.8,117.6],[170.9,118.5]];
var dGrayBot = [[0,110.4],[5.2,110.66],[10.1,110.33],[13.5,109.91],[18.5,109.99],[23.5,110.29],[27.6,111.08],[32.6,111.29],[40.1,111.45],[46.8,111.41],[50.1,111.83],[55.1,112.88],[61.7,113.33],[67.6,113.93],[73.4,114.15],[77.5,114.83],[81.7,115.35],[85,115.54],[90,115.39],[96.7,114.98],[103.3,114.83],[107.5,114.98],[113.3,114.53],[117.3,114.19],[122.3,113.93],[129.7,113.85],[136.4,113.74],[140.6,113.81],[143.9,113.44],[150.5,113.33],[155.9,113.18],[159.7,113.36],[162.2,114],[166.3,114.6],[170.9,115.2]];
var dBlueClouds = [[[[0,111.38],[7.7,111.53],[13.5,111.9],[19.3,112.2],[24.3,112.73],[30.1,113.03],[38.4,113.78],[46.8,114],[50.1,114.9],[56.7,115.5],[63.4,115.73],[71.7,116.03],[76.7,116.93],[81.7,117.9],[85.9,118.16],[92.5,117.98],[99.2,117.71]],[[0,111.23],[7.7,111.34],[16,111.53],[21.8,111.83],[30.1,112.5],[38.4,112.8],[46.8,112.95],[50.9,113.78],[59.2,114.6],[67.6,115.5],[75.9,116.48],[81.7,117.08],[85.9,117.41],[90.8,117.6],[99.2,117.71]]],[[[159.7,114.56],[162.6,114.83],[167.2,115.5],[170.9,116.03]],[[159.7,114.56],[163.8,114.71],[168,114.98],[170.9,115.24]]]];
var dOrangeClouds = [[[[99.2,117.71],[109.2,117.75],[113.3,117.6],[117.3,117.56],[122.3,117.08],[127.2,116.48],[133.9,115.88],[140.6,115.5],[146.4,114.98],[153.9,114.68],[159.7,114.56]],[[99.2,117.71],[105,117.6],[111.6,117.45],[117.5,116.78],[123.3,115.88],[129.7,115.5],[138,115.28],[142.2,114.75],[148.9,114.53],[153.9,114.23],[157.2,114.3],[159.7,114.56]]]];
var dMid = [["up",[[0,111.96],[1.8,112.04],[5.8,112.1]]],["flat",[[5.8,112.11],[22.6,112.11]]],["up",[[22.6,112.11],[24.7,112.28],[28,112.73],[31.4,112.95]]],["flat",[[31.4,112.95],[36.8,112.99],[39.3,113.06],[46.8,113.08]]],["up",[[46.8,113.08],[48.8,113.36],[50.9,114],[54.2,114.83],[56.3,115.01],[60.9,115.2]]],["flat",[[60.9,115.2],[61.7,115.2]]],["up",[[61.7,115.2],[67.6,115.55]]],["flat",[[67.6,115.57],[73,115.57]]],["up",[[73,115.57],[75,115.69],[77.5,116.1],[80,116.59],[83.4,116.93],[85,117.04]]],["flat",[[85,117.02],[85.9,117.02]]],["down",[[85.9,117.02],[90,116.9]]],["flat",[[90,116.9],[113,116.9]]],["down",[[113,116.9],[115.4,116.8],[117.3,116.48],[119.8,116.14],[123.5,115.8],[128.1,115.69],[132.2,115.46]]],["flat",[[132.2,115.46],[159.7,115.41]]],["up",[[160,115.41],[163.8,115.88],[167.2,116.18],[170.9,116.7]]]];
var dSma = [[0,112.84],[2.7,112.99],[6.8,112.88],[12.6,112.28],[19.3,112.28],[23.5,112.95],[29.3,113.48],[38.4,113.36],[45.9,113.36],[50.1,114.15],[55.1,115.35],[60.9,115.65],[70,115.8],[76.7,116.55],[82.5,117.23],[85.9,117.41],[90.8,117.15],[96.7,116.78],[103.3,116.51],[108.3,116.78],[113.3,116.33],[117.3,116.1],[121.4,115.61],[128.1,115.58],[133.1,115.28],[140.6,115.43],[144.7,115.09],[150.5,114.98],[155.5,114.83],[159.7,115.05],[163.8,115.95],[170.9,116.63]];
var dMacd = [[0,0.78],[1,0.78],[2.2,0.7],[3.9,0.41],[6,0.11],[7.2,-0.22],[9.3,-0.62],[11,-0.79],[13.9,-0.83],[15.1,-0.79],[16.8,-0.57],[19.7,0.22],[21.8,0.48],[26,0.96],[27.6,0.99],[29.3,0.94],[32.6,0.48],[35.9,-0.16],[39.3,-0.46],[40.1,-0.46],[43.8,-0.18],[45.5,-0.09],[48,0.43],[51.7,1.07],[53.8,1.27],[55.1,1.28],[57.6,1.07],[60.9,0.56],[63,-0.07],[64.6,-0.34],[65.9,-0.35],[68,-0.31],[70.9,-0.03],[75,0.43],[77.1,0.68],[79.2,0.85],[80.9,0.89],[82.5,0.82],[84.2,0.76],[85.9,0.61],[87.5,0.3],[89.2,-0.14],[92.9,-0.79],[93.8,-0.79],[97.1,-0.68],[101.7,-0.36],[102.9,-0.31],[105.8,0.19],[107.5,0.33],[108.7,0.35],[110.8,0.22],[112.9,-0.29],[115,-0.58],[117.3,-0.69],[119.3,-0.82],[120.2,-0.82],[123.9,-0.62],[128.1,-0.01],[129.7,0.04],[131.8,0.16],[133.1,0.15],[135.1,0.06],[136.8,0.02],[139.7,0.22],[141.4,0.11],[143,-0.05],[145.9,-0.18],[147.2,-0.29],[148,-0.32],[150.5,-0.18],[153,-0.25],[154.3,-0.32],[155.9,-0.27],[158,0.04],[160.9,0.74],[163,0.92],[166.3,1.07],[167.6,1.05],[170.9,0.84]];
var dMacdSignal = [[0,0.62],[2.7,0.66],[5.6,0.61],[7.7,0.44],[11,-0.11],[13.9,-0.55],[17.2,-0.71],[18.9,-0.68],[21,-0.49],[23.5,-0.14],[26.4,0.44],[29.3,0.78],[31.8,0.84],[33.9,0.78],[36.8,0.48],[40.9,-0.11],[43.8,-0.27],[45.9,-0.31],[48.8,-0.09],[54.2,0.74],[57.6,1.05],[59.6,1.08],[62.6,0.92],[67.6,0.19],[70,-0.13],[72.1,-0.2],[74.6,-0.07],[80,0.54],[84.2,0.76],[85.9,0.78],[87.9,0.72],[90.8,0.44],[95,-0.33],[97.9,-0.6],[100,-0.66],[102.5,-0.6],[106.7,-0.31],[110.4,0.08],[112.5,0.14],[114.1,0.1],[117.3,-0.18],[120.6,-0.6],[123.9,-0.7],[126.4,-0.64],[130.6,-0.29],[135.1,0.04],[141.4,0.13],[145.5,0.04],[150.5,-0.18],[155.5,-0.26],[158,-0.22],[160.9,0.04],[164.3,0.48],[167.2,0.79],[169.7,0.94],[170.9,0.96]];
var dHist = [1.17,0.74,1.3,1.17,0.57,1.03,0.29,-0.47,-0.25,-0.96,-1.3,-1.04,-0.75,-0.84,-0.57,-0.84,-1.15,-0.93,-1.15,-1.04,-0.75,-0.37,0.68,1.79,2.03,1.21,1.09,1.25,1.34,1.44,1.61,1.5,1.09,0.56,0.35,0.68,0.7,0.89,0.98,0.35,0.29,0.84,-0.33,-1.3,-1.56,-0.74,-0.39,0.98,1.44,1.61,1.56,1.79,1.93,1.98,1.89,1.7,1.54,1.17,1.09,1.24,1.27,0.93,1.03,1.39,1.66,1.72,1.76,1.38,-0.92,-0.59,-0.49,-0.8,0.23,0.13,0.39,0.37,1.09,1.48,1.52,1.62,1.7,1.66,1.54,1.25,1.42,1.17,0.49,0.31,0.72,0.7,-0.08,0.29,-0.7,-0.93,-0.92,-0.69,-1.25,-1.37,-1.41,-1.45,-1.43,-1.25,-1,-0.8,-0.88,-0.47,0.57,0.57,-0.33,-0.85,0.13,-0.61,-1.1,-1.33,-1.56,-1.67,-1.2,-1.56,-1.37,-1.39,-1.29,-1.08,-1.8,-2.08,-2.21,-1.92,-1.92,-1.78,-1.2,-0.96,-1.78,-1.51,-1.29,0.98,0.41,0.37,-0.3,1.05,1.21,1.16,0.5,-0.59,-0.93,-0.51,-0.2,-0.39,0.23,-0.55,-1.07,-0.96,-0.39,-0.51,-0.51,-1.56,-0.67,0.07,-0.47,0.78,0.16,1.05,2.44,2.52,2.38,1.87,1.54,1.38,1.27,1.48,1.58,1.66,1.89,1.72,1.54];
var dHistUp = [23,24,51,52,53,54,55,64,65,66,79,80,81,160,161,162,163,169,170,171];
var dHistDown = [115,122,123,124,125,126,127,130];
var dLine = [[0,1.52],[2.7,1.38],[5.6,1.09],[8.1,0.56],[9.7,-0.18],[11.8,-0.84],[15.1,-1.12],[18.1,-1.35],[21,-1.25],[22.2,-0.84],[23.5,0.07],[25.1,0.97],[28.5,1.5],[31.4,1.73],[33.9,1.62],[38,1.17],[40.9,0.39],[43.4,-0.51],[45.9,-0.94],[47.6,-0.59],[50.9,0.97],[54.2,1.75],[58.4,1.84],[61.7,1.75],[66.7,1.38],[69.2,0.64],[70.9,-0.06],[73,-0.2],[75,-0.16],[78.8,0.8],[81.7,1.3],[83.8,1.5],[85.9,1.58],[88.8,1.3],[91.7,0.64],[93.3,-0.18],[95.8,-1],[98.8,-1.45],[100.8,-1.57],[104.6,-1.33],[108.3,-0.71],[110.8,-0.3],[112.5,-0.43],[115,-0.88],[117.3,-1.15],[121.4,-1.53],[124.3,-1.98],[126.4,-2.02],[128.9,-1.8],[131.8,-1.66],[135.7,-0.63],[139.1,0.93],[141,1.17],[146,0.64],[149.7,-0.43],[153,-1.15],[155.9,-1.08],[158,-0.63],[159.1,-0.18],[160.9,1.38],[163,1.91],[167.2,2.06],[168.8,2.06],[170.5,2.11],[172,2.03]];
var dTicks = [119.25,118.5,117.75,117,116.25,115.5,114.75,114,113.25,112.5,112.125,111.375,111,110.25,109.875,109.5];
var dTickLabels = ["119'08","118'16","117'24","117'00","116'08","115'16","114'24","114'00","113'08","112'16","112'04","111'12","111'00","110'08","109'28","109'16"];
var dXTicks = [21.8,43,64.9,88,107.9,129.8,150.9,170.9,192.9,214];
var dXLabels = ["Aug","Sep","Oct","Nov","Dec","26","Feb","Mar","Apr","May"];
var dArrowsUp = [[36.9,111.75],[45.9,112.61],[62.9,114.35],[69,114.29],[83.9,117.02],[170,116.98]];
var dArrowsDown = [[128.1,116.3],[141,116.46],[151,116.21]];

var COLOR = {
  canvas:"#e6e6fa", bar:"#3a3a3c", bg:"#2d2d30", axis:"#9b9ba6", grid:"#cfcfd9", label:"#777777",
  up:"#0a5c10", down:"#b01e26", band:"#2f97f0", sma:"#b2b2b8", gray:"#d4d4d4",
  blue:"#a0bce8", orange:"#f2b98a", hist:"#c0c0c4", histUp:"#000080", histDown:"#8b0000",
  line:"#000080", signal:"#a85a1c", channel:"#f2f0a0", mark:"#b4262a", tag:"#ffff00"
};
var MID = {flat:"#ffff00", up:"#4169e1", down:"#dc143c"};
var LEVEL = {high:"#008b80", pivot:"#a81010", low:"#fa7a68"};

var svg = d3.select("#screen");
svg.append("rect").attr("width",2500).attr("height",1688).attr("fill",COLOR.bg);

function txt(g, x, y, s, size, fill, anchor, weight) {
  return g.append("text").attr("x",x).attr("y",y).attr("dy","0.35em").text(s)
    .attr("font-size",size).attr("fill",fill).attr("text-anchor",anchor||"start")
    .attr("font-weight",weight||"normal").attr("xml:space","preserve").style("white-space","pre");
}

// window title strip with tab, two dropdowns, icons and buttons
function titleBar(o) {
  var g = svg.append("g"), y = o.y, h = o.h || 35;
  g.append("rect").attr("x",o.x0).attr("y",y).attr("width",o.x1-o.x0).attr("height",h).attr("fill",o.color||COLOR.bar);
  g.append("rect").attr("x",o.x0+(o.tabOff||0)).attr("y",y).attr("width",o.tabW||75).attr("height",h-2).attr("fill","#e03c00");
  txt(g,o.x0+(o.tabOff||0)+(o.tabW||75)/2,y+h/2,"Chart",24,"#ffffff","middle");
  [[o.d1,o.sym],[o.d2,o.per]].forEach(function(d){
    g.append("rect").attr("x",d[0]).attr("y",y+3).attr("width",202).attr("height",h-8).attr("fill","#3f3f46");
    txt(g,d[0]+10,y+h/2-1,d[1],19,"#b9b9b9");
    g.append("path").attr("d","M"+(d[0]+181)+" "+(y+h/2-5)+"l7 8l7 -8").attr("fill","none").attr("stroke","#d8d8d8").attr("stroke-width",2.5);
  });
  (o.icons||[]).forEach(function(ic){ icon(g,ic[0],y+h/2,ic[1]); });
  if (o.drop) g.append("path").attr("d","M"+(o.drop-7)+" "+(y+h/2-4)+"h14l-7 8z").attr("fill","#d8d8d8");
  var b = o.btn, cy = y+h/2, s = 25;
  g.append("rect").attr("x",b[0]).attr("y",cy-12).attr("width",s).attr("height",s).attr("fill","#a9a9a9");
  g.append("rect").attr("x",b[1]).attr("y",cy-12).attr("width",s).attr("height",s).attr("fill","#00e800");
  [b[2],b[3],b[4]].forEach(function(bx,i){
    g.append("rect").attr("x",bx).attr("y",cy-12).attr("width",s).attr("height",s).attr("fill",(i==2&&o.redClose)?"#c0272d":"#2d2d30").attr("stroke","#a8a8a8").attr("stroke-width",1.5);
  });
  g.append("rect").attr("x",b[2]+5).attr("y",cy+5).attr("width",15).attr("height",3).attr("fill","#e8e8e8");
  g.append("rect").attr("x",b[3]+5).attr("y",cy-7).attr("width",15).attr("height",15).attr("fill","none").attr("stroke","#e8e8e8").attr("stroke-width",2);
  g.append("path").attr("d","M"+(b[4]+6)+" "+(cy-6)+"l13 13m0 -13l-13 13").attr("stroke","#f0f0f0").attr("stroke-width",3.5);
}

function icon(g, x, y, kind) {
  var ic = g.append("g").attr("transform","translate("+x+","+y+")").attr("fill","none").attr("stroke","#d0d0d0").attr("stroke-width",1.6);
  if (kind=="candles") {
    ic.append("path").attr("d","M-8 -3v9M0 -10v16M8 -5v12").attr("stroke-width",1.5);
    ic.append("path").attr("d","M-8 -2v6M0 -7v11M8 -3v7").attr("stroke-width",5);
  } else if (kind=="bars") {
    ic.append("path").attr("d","M-8 -8v16M-11 -3h3M-8 3h3M0 -11v20M-3 -6h3M0 5h3M8 -9v15M5 -5h3M8 2h3");
  } else if (kind=="pencil") {
    ic.append("path").attr("d","M-10 -10l4 -3l15 18l1 6l-6 -3zM-7 -7l3 -3M-4 -6l2 3");
  } else if (kind=="zoomin"||kind=="zoomout") {
    ic.append("circle").attr("cx",-3).attr("cy",-3).attr("r",7.5);
    ic.append("path").attr("d","M3 3l8 9").attr("stroke-width",3.5);
    ic.append("path").attr("d",kind=="zoomin"?"M-7 -3h8M-3 -7v8":"M-7 -3h8");
    if (kind=="zoomout") ic.attr("opacity",0.45);
  } else if (kind=="cursor") {
    ic.append("path").attr("d","M-5 -11v18l5 -5l5 7l3 -2l-5 -6h6z");
  } else if (kind=="doc") {
    ic.append("path").attr("d","M-10 -12h14l6 6v17h-20zM-6 -4h8M-6 1h6M-6 6h8");
  } else if (kind=="boxes") {
    ic.append("path").attr("d","M-11 -10h8v6h-8zM-11 2h8v6h-8zM-3 -7h8M-3 5h8M5 -11h6v22h-6z");
  } else if (kind=="frame") {
    ic.append("path").attr("d","M-11 -6v-6h6M5 -12h6v6M11 6v6h-6M-5 12h-6v-6M-5 8v-7M0 8v-12M5 8v-5");
  } else if (kind=="nodes") {
    ic.append("path").attr("d","M-10 10l6 -9l5 5l9 -15");
    [[-10,10],[-4,1],[1,6],[10,-9]].forEach(function(p){ ic.append("circle").attr("cx",p[0]).attr("cy",p[1]).attr("r",2.5); });
  } else if (kind=="sheet") {
    ic.append("path").attr("d","M-10 -12h20v24h-20zM-6 -6l5 5m0 -5l-5 5M2 3l4 4m0 -4l-4 4M-5 6l10 -10");
  } else if (kind=="list") {
    ic.append("path").attr("d","M-11 -10h5v5h-5zM-11 -2h5v5h-5zM-11 6h5v5h-5zM-2 -7h14M-2 1h14M-2 8h14");
  }
}

// one chart window: canvas, price pane and indicator panes
function drawChart(c) {
  // x places lines, ticks and drawings, xBar places the bars by their row number
  var xBar = d3.scaleLinear().domain(c.xDomain).range(c.xRange);
  var x = d3.scaleLinear().domain(c.xLineDomain||c.xDomain).range(c.xRange);
  var y = c.log ? d3.scaleLog().domain(c.yDomain).range(c.yRange) : d3.scaleLinear().domain(c.yDomain).range(c.yRange);
  // the price axis itself is logarithmic on some windows
  var yAxisScale = c.axisLog ? d3.scaleLog().domain(c.axisLog).range(c.yRange) : y;
  var g = svg.append("g");
  var clipId = "clip"+c.name;
  g.append("rect").attr("x",c.left).attr("y",c.top).attr("width",c.canvasRight-c.left).attr("height",c.bottom-c.top).attr("fill",COLOR.canvas);
  svg.append("clipPath").attr("id",clipId).append("rect").attr("x",c.left).attr("y",c.top).attr("width",c.right-c.left).attr("height",c.axisY-c.top);
  var plot = g.append("g").attr("clip-path","url(#"+clipId+")");
  var pane = plot.append("g");

  var lineGen = d3.line().x(function(d){return x(d[0]);}).y(function(d){return y(d[1]);}).curve(d3.curveMonotoneX);
  var poly = d3.line().x(function(d){return x(d[0]);}).y(function(d){return y(d[1]);});
  function cloud(top, bot, fill, op) {
    pane.append("path").attr("d",poly(top.concat(bot.slice().reverse()))+"Z").attr("fill",fill).attr("fill-opacity",op);
  }

  (c.sessions||[]).forEach(function(s){
    plot.append("line").attr("x1",x(s)).attr("x2",x(s)).attr("y1",c.top).attr("y2",c.axisY)
      .attr("stroke",c.sessionDash?"#77777f":"#b9b9c4").attr("stroke-width",1).attr("stroke-dasharray",c.sessionDash||null);
  });
  cloud(c.grayTop,c.grayBot,COLOR.gray,0.55);
  (c.blueClouds||[]).forEach(function(b){ cloud(b[0],b[1],COLOR.blue,0.45); });
  (c.orangeClouds||[]).forEach(function(b){ cloud(b[0],b[1],COLOR.orange,0.3); });

  pane.append("path").attr("d",lineGen(c.sma)).attr("fill","none").attr("stroke",COLOR.sma).attr("stroke-width",1);
  [c.upper,c.lower].forEach(function(b){
    pane.append("path").attr("d",lineGen(b)).attr("fill","none").attr("stroke",COLOR.band).attr("stroke-width",1.8);
  });

  (c.levels||[]).forEach(function(l){
    plot.append("line").attr("x1",x(l[1])).attr("x2",x(l[2])).attr("y1",y(l[3])).attr("y2",y(l[3]))
      .attr("stroke",LEVEL[l[0]]).attr("stroke-width",2.4).attr("stroke-dasharray","2.4,2");
  });

  // candles
  if (c.candles) {
    var cs = plot.append("g").selectAll("g").data(c.candles).join("g");
    cs.append("line").attr("x1",function(d,i){return xBar(i);}).attr("x2",function(d,i){return xBar(i);})
      .attr("y1",function(d){return y(d[1]);}).attr("y2",function(d){return y(d[2]);})
      .attr("stroke","#000").attr("stroke-width",1.3);
    cs.append("rect").attr("x",function(d,i){return xBar(i)-2.5;}).attr("width",5)
      .attr("y",function(d){return y(Math.max(d[0],d[3]));})
      .attr("height",function(d){return Math.max(1.5,Math.abs(y(d[0])-y(d[3])));})
      .attr("fill",function(d){return d[3]>=d[0]?COLOR.up:COLOR.down;})
      .attr("stroke","#000").attr("stroke-width",1);
  }
  // plain high-low bars
  if (c.bars) {
    plot.append("g").selectAll("line").data(c.bars).join("line")
      .attr("x1",function(d,i){return xBar(i);}).attr("x2",function(d,i){return xBar(i);})
      .attr("y1",function(d){return y(d[0]);}).attr("y2",function(d){return y(d[1]);})
      .attr("stroke","#000").attr("stroke-width",1.6);
  }

  c.mid.forEach(function(seg){
    plot.append("path").attr("d",lineGen(seg[1])).attr("fill","none").attr("stroke",MID[seg[0]])
      .attr("stroke-width",c.midWidth||3.6).attr("stroke-dasharray",c.midDash||"9,5");
  });

  (c.arrowsUp||[]).forEach(function(a){ blockArrow(plot,x(a[0]),y(a[1]),1,"#0000f0"); });
  (c.arrowsDown||[]).forEach(function(a){ blockArrow(plot,x(a[0]),y(a[1]),-1,COLOR.mark); });

  if (c.extras) c.extras(plot,x,y);

  // axis frame and price axis
  var ax = g.append("g").attr("transform","translate("+c.right+",0)");
  ax.call(d3.axisRight(yAxisScale).tickValues(c.ticks).tickFormat(function(d,i){return c.tickLabels[i];}).tickSize(6).tickPadding(3));
  styleAxis(ax,17);
  var minor = g.append("g").attr("transform","translate("+c.right+",0)");
  minor.call(d3.axisRight(yAxisScale).tickValues(d3.pairs(c.ticks,function(a,b){return (a+b)/2;})).tickFormat("").tickSize(4));
  styleAxis(minor,17);
  minor.select(".domain").remove();
  ax.select(".domain").attr("d","M0,"+c.top+"V"+c.axisY);

  var xa = g.append("g").attr("transform","translate(0,"+c.axisY+")");
  xa.call(d3.axisBottom(x).tickValues(c.xTicks).tickFormat(function(d,i){return c.xLabels[i];}).tickSize(5).tickPadding(9));
  styleAxis(xa,17);
  xa.select(".domain").attr("d","M"+c.left+",0H"+c.right);

  (c.panes||[]).forEach(function(p){
    var py = d3.scaleLinear().domain([0,1]).range(p.zero);
    g.append("line").attr("x1",c.left).attr("x2",c.canvasRight).attr("y1",p.top).attr("y2",p.top).attr("stroke",COLOR.grid).attr("stroke-width",2);
    p.grid.forEach(function(v){
      g.append("line").attr("x1",c.left).attr("x2",c.right).attr("y1",py(v)).attr("y2",py(v)).attr("stroke",COLOR.grid).attr("stroke-width",v===0?2:1.5);
    });
    if (p.hist) {
      g.append("g").selectAll("rect").data(p.hist).join("rect")
        .attr("x",function(d,i){return xBar(i)-p.barW/2;}).attr("width",p.barW)
        .attr("y",function(d){return Math.min(py(d),py(0));})
        .attr("height",function(d){return Math.abs(py(d)-py(0));})
        .attr("fill",function(d,i){return p.histUp.indexOf(i)>=0?COLOR.histUp:(p.histDown.indexOf(i)>=0?COLOR.histDown:COLOR.hist);});
    }
    var pl = d3.line().x(function(d){return x(d[0]);}).y(function(d){return py(d[1]);}).curve(d3.curveMonotoneX);
    p.lines.forEach(function(l){
      g.append("path").attr("d",pl(l[0])).attr("fill","none").attr("stroke",l[1]).attr("stroke-width",1.8);
    });
    var pa = g.append("g").attr("transform","translate("+c.right+",0)");
    pa.call(d3.axisRight(py).tickValues(p.ticks).tickFormat(function(d,i){return p.tickLabels[i];}).tickSize(6).tickPadding(3));
    styleAxis(pa,17);
    pa.select(".domain").attr("d","M0,"+p.top+"V"+p.bottom);
  });

  // the chart captions sit on top of everything, slightly see-through
  c.notes.forEach(function(n){ txt(g,n[0],n[1],n[2],n[3],COLOR.label).attr("opacity",n[4]||0.95); });
  txt(g,c.copyright[0],c.copyright[1],"© 2026 NinjaTrader, LLC",17,COLOR.label);

  if (c.tag) {
    var ty = yAxisScale(c.tag[0]);
    var tagG = g.append("g").attr("transform","translate("+(c.right-5)+","+ty+")");
    tagG.append("path").attr("d","M0 0L5 -11H"+(c.canvasRight-c.right+4)+"V11H5Z").attr("fill",COLOR.tag).attr("stroke","#b8b8b8").attr("stroke-width",0.8);
    txt(tagG,c.canvasRight-c.right-3,0,c.tag[1],17,"#000","end");
  }
  return {x:x,y:y};
}

function styleAxis(a,size) {
  a.selectAll("text").attr("font-size",size).attr("fill",COLOR.label).attr("font-family",'"Noto Sans",sans-serif');
  a.selectAll("line").attr("stroke",COLOR.axis);
  a.select(".domain").attr("stroke",COLOR.axis).attr("stroke-width",1.5);
}

function blockArrow(g,x,y,dir,fill) {
  g.append("path").attr("transform","translate("+x+","+y+") scale(1,"+dir+")")
    .attr("d","M0 -11L4 -4H1.7V10H-1.7V-4H-4Z").attr("fill",fill);
}

function backArrow(x,y) {
  svg.append("path").attr("d","M"+(x+14)+" "+y+"H"+(x-14)+"M"+(x-4)+" "+(y-10)+"L"+(x-14)+" "+y+"L"+(x-4)+" "+(y+10))
    .attr("fill","none").attr("stroke","#6e6e76").attr("stroke-width",3);
}

function channel(plot,x,y,pts,l1,l2) {
  plot.append("path").attr("d",d3.line().x(function(d){return x(d[0]);}).y(function(d){return y(d[1]);})(pts)+"Z")
    .attr("fill",COLOR.channel).attr("fill-opacity",0.62);
  [l1,l2].forEach(function(l){
    plot.append("line").attr("x1",x(l[0][0])).attr("y1",y(l[0][1])).attr("x2",x(l[1][0])).attr("y2",y(l[1][1]))
      .attr("stroke",COLOR.mark).attr("stroke-width",2.2);
  });
}

function ellipseMark(plot,cx,cy,rx,ry) {
  plot.append("ellipse").attr("cx",cx).attr("cy",cy).attr("rx",rx).attr("ry",ry)
    .attr("fill",COLOR.channel).attr("fill-opacity",0.6).attr("stroke",COLOR.mark).attr("stroke-width",2.4);
}

function arrowMark(plot,x0,y0,x1,y1,head) {
  var a = Math.atan2(y1-y0,x1-x0), h = head||14;
  plot.append("line").attr("x1",x0).attr("y1",y0).attr("x2",x1-Math.cos(a)*h*0.6).attr("y2",y1-Math.sin(a)*h*0.6)
    .attr("stroke",COLOR.mark).attr("stroke-width",2.4);
  plot.append("path").attr("d","M"+x1+" "+y1+"L"+(x1-h*Math.cos(a-0.45))+" "+(y1-h*Math.sin(a-0.45))+"L"+(x1-h*Math.cos(a+0.45))+" "+(y1-h*Math.sin(a+0.45))+"Z").attr("fill",COLOR.mark);
}

function levelLine(plot,x0,x1,y,color,w) {
  plot.append("line").attr("x1",x0).attr("x2",x1).attr("y1",y).attr("y2",y).attr("stroke",color).attr("stroke-width",w||1.8);
}

// ---- title strips
titleBar({x0:0,x1:768,y:0,d1:103,d2:315,sym:"ZB 06-26",per:"240 Minute",icons:[[550,"candles"]],drop:598,btn:[617,648,678,708,740]});
titleBar({x0:770,x1:1628,y:0,tabOff:2,d1:874,d2:1086,sym:"6E 03-26",per:"60 Minute",icons:[[1320,"bars"],[1365,"pencil"],[1410,"zoomin"]],drop:1462,btn:[1480,1510,1541,1572,1602]});
titleBar({x0:1630,x1:2500,y:0,tabOff:2,tabW:78,d1:1739,d2:1951,sym:"ZB 06-26",per:"15 Minute",icons:[[2184,"bars"],[2230,"pencil"],[2275,"zoomin"]],drop:2326,btn:[2344,2376,2406,2437,2466]});
titleBar({x0:0,x1:768,y:832,d1:103,d2:315,sym:"ZB 06-26",per:"Weekly",icons:[[550,"candles"]],drop:598,btn:[617,648,678,708,740]});
titleBar({x0:770,x1:2500,y:535,h:37,color:"#1c1c1e",d1:874,d2:1086,sym:"ZB JUN26",per:"Daily",
  icons:[[1321,"candles"],[1365,"pencil"],[1410,"zoomin"],[1456,"zoomout"],[1500,"cursor"],[1546,"doc"],[1591,"boxes"],[1636,"frame"],[1683,"nodes"],[1727,"sheet"],[1772,"list"]],
  btn:[2346,2376,2408,2438,2469],redClose:true});

// ---- 240 minute
drawChart({
  name:"h4", left:9, top:48, right:693, canvasRight:759, bottom:824, axisY:792,
  xDomain:[0,98], xLineDomain:[0,99], xRange:[18.7,657.7], yDomain:[119,113.5], yRange:[79.4,573.3], axisLog:[119,113.5],
  candles:h4Candles, upper:h4Upper, lower:h4Lower, grayTop:h4GrayTop, grayBot:h4GrayBot,
  blueClouds:[[h4BlueTop,h4BlueBot]], mid:h4Mid, sma:h4Sma, sessions:h4Sessions,
  ticks:h4Ticks, tickLabels:h4TickLabels, xTicks:h4XTicks, xLabels:h4XLabels,
  notes:[[22,100,"Remek!  ZB JUN26  240 Minute  2026-03-03 9:06 AM",17.2],[23,127,"3 ATR = 1031 USD",17.2]],
  copyright:[12,777], tag:[116.75,"116'24"],
  arrowsUp:[[25,115.32]], arrowsDown:[[58.6,118.3],[72.7,118.45]],
  panes:[{top:582,bottom:792,zero:[725.2,701.4],grid:[2,0,-2],hist:h4Hist,histUp:h4HistUp,histDown:[],barW:4.5,
    lines:[[h4Line,COLOR.line]],ticks:[4,3,1,0,-2],tickLabels:["4","3","1","0","-2"]}],
  extras:function(p,x,y){
    channel(p,x,y,[[-1.5,115.64],[1.07,116.02],[10,115.38],[6.1,114.85],[-1.5,115.4]],[[1.07,116.02],[10,115.38]],[[-1.5,115.4],[6.1,114.85]]);
    channel(p,x,y,[[12.1,116.5],[19.2,116.94],[27.2,116.29],[20.7,115.88]],[[19.2,116.94],[27.2,116.32]],[[12.1,116.5],[21.3,115.85]]);
    p.append("line").attr("x1",x(28.2)).attr("x2",x(28.2)).attr("y1",y(117.53)).attr("y2",y(115.78)).attr("stroke","#9a9aa2").attr("stroke-width",1);
    levelLine(p,x(28.2),693,y(117.53),"#3d9a72");
    levelLine(p,x(28.2),693,y(116.67),"#d9965c");
    levelLine(p,x(28.2),693,y(115.78),"#dc2a56");
    txt(p,x(28.5),y(117.41),"117'16",17,"#3d9a72");
    txt(p,x(28.5),y(116.55),"116'20",17,"#d9965c");
    txt(p,x(28.5),y(115.67),"115'24",17,"#dc2a56");
    ellipseMark(p,x(29.8),y(116.31),23,18.5);
    arrowMark(p,x(30.2),y(116.35),x(34.8),y(116.64),13);
    p.append("rect").attr("x",x(39)-17).attr("y",y(116.97)-16).attr("width",34).attr("height",32).attr("fill",COLOR.channel).attr("fill-opacity",0.6);
    txt(p,x(39),y(116.97),"1R",22,COLOR.mark,"middle","bold").style("font-family",'"Liberation Sans",sans-serif');
  }
});

// ---- 60 minute
drawChart({
  name:"m60", left:780, top:48, right:1544.5, canvasRight:1622, bottom:522, axisY:489,
  xDomain:[0,156], xRange:[790.8,1520.8], yDomain:[1.186,1.158], yRange:[64,477.3],
  bars:m60Bars, upper:m60Upper, lower:m60Lower, grayTop:m60GrayTop, grayBot:m60GrayBot,
  mid:m60Mid, sma:m60Sma, sessions:m60Sessions, sessionDash:"3,2", levels:m60Levels,
  ticks:m60Ticks, tickLabels:m60TickLabels, xTicks:m60XTicks, xLabels:m60XLabels,
  notes:[[802,92,"Loading...",17,0.7],[789,101,"Remek!  6E MAR26  60 Minute",17,0.7],[794,127,"3 ATR = 725 USD",17,0.7]],
  copyright:[784,475], tag:[1.1608,"1.16080"], arrowsUp:m60ArrowsUp, arrowsDown:m60ArrowsDown
});

// ---- 15 minute
drawChart({
  name:"m15", left:1644, top:48, right:2421, canvasRight:2486, bottom:522, axisY:489,
  xDomain:[0,153], xRange:[1656.6,2396.5], yDomain:[119.25,116.5], yRange:[63,471.8],
  bars:m15Bars, upper:m15Upper, lower:m15Lower, grayTop:m15GrayTop, grayBot:m15GrayBot,
  mid:m15Mid, sma:m15Sma, sessions:m15Sessions, sessionDash:"4,3", levels:m15Levels,
  ticks:m15Ticks, tickLabels:m15TickLabels, xTicks:m15XTicks, xLabels:m15XLabels,
  notes:[[1657,101,"Remek!  ZB JUN26  15 Minute  2026-03-03 9:06 AM",17.2,0.8],[1658,127,"3 ATR = 406 USD",17.2,0.8]],
  copyright:[1648,475], tag:[116.75,"116'24"], arrowsUp:m15ArrowsUp, arrowsDown:m15ArrowsDown
});

// ---- weekly
drawChart({
  name:"wk", left:9, top:882, right:692.5, canvasRight:759, bottom:1680, axisY:1649, log:true,
  xDomain:[0,84], xRange:[18.7,601.2], yDomain:[128,106], yRange:[898.4,1403.6],
  candles:wkCandles, upper:wkUpper, lower:wkLower, grayTop:wkGrayTop, grayBot:wkGrayBot,
  blueClouds:wkBlueClouds, orangeClouds:wkOrangeClouds, mid:wkMid, sma:wkSma, midWidth:3,
  ticks:wkTicks, tickLabels:wkTickLabels, xTicks:wkXTicks, xLabels:wkXLabels,
  notes:[[21,935,"Remek!  ZB JUN26  Weekly  2026-03-03 9:06 AM",17.2,0.8],[23,961,"3 ATR = 5906 USD",17.2,0.8]],
  copyright:[12,1632], tag:[116.75,"116'24"], arrowsDown:[[21.1,117.95]],
  panes:[{top:1428,bottom:1649,zero:[1539.4,1502.1],grid:[2,0,-2],hist:wkHist,histUp:wkHistUp,histDown:wkHistDown,barW:4,
    lines:[[wkLine,COLOR.line]],ticks:[2.5,1.5,0.5,-0.5,-1.5,-2.5],tickLabels:["2.5","1.5","0.5","-0.5","-1.5","-2.5"]}],
  extras:function(p,x,y){
    channel(p,x,y,[[57.2,116.33],[63.2,120.1],[81.6,116],[76.1,112.3]],[[63.2,120.1],[81.8,115.93]],[[57.2,116.33],[76.1,112.27]]);
    p.append("line").attr("x1",x(81)).attr("x2",x(81)).attr("y1",y(120.16)).attr("y2",y(113.53)).attr("stroke","#9a9aa2").attr("stroke-width",1);
    levelLine(p,x(81),692,y(120.16),"#3d9a72");
    levelLine(p,x(81),692,y(116.84),"#d9965c");
    levelLine(p,x(81),692,y(113.53),"#dc2a56");
    txt(p,x(81.2),y(119.66),"120'05",17,"#3d9a72");
    txt(p,x(81.2),y(116.41),"116'27",17,"#d9965c");
    txt(p,x(81.2),y(113.13),"113'17",17,"#dc2a56");
    ellipseMark(p,x(83.6),y(115.81),31,23);
    arrowMark(p,x(83.9),y(116.05),x(90.5),y(118.29),15);
  }
});
backArrow(657,915);

// ---- daily
drawChart({
  name:"d", left:780, top:584, right:2422, canvasRight:2488, bottom:1680, axisY:1648,
  xDomain:[0,172], xRange:[791.8,1977.7], yDomain:[119.25,109.395], yRange:[621.8,1225], axisLog:[119.25,109.5],
  candles:dCandles, upper:dUpper, lower:dLower, grayTop:dGrayTop, grayBot:dGrayBot,
  blueClouds:dBlueClouds, orangeClouds:dOrangeClouds, mid:dMid, sma:dSma, midWidth:3.2,
  ticks:dTicks, tickLabels:dTickLabels, xTicks:dXTicks, xLabels:dXLabels,
  notes:[[797,646,"Remek!  ZB JUN26  Daily  2026-03-03 9:06 AM",28,0.8],[794,681,"3 ATR = 2531 USD",20]],
  copyright:[783,1632], tag:[116.75,"116'24"], arrowsUp:dArrowsUp, arrowsDown:dArrowsDown,
  panes:[
    {top:1246,bottom:1446,zero:[1367,1276.3],grid:[0],lines:[[dMacdSignal,COLOR.signal],[dMacd,COLOR.line]],
      ticks:[1.09,0.82,0.48,0,-0.5],tickLabels:["1.5","1","0.5","0","-0.5"]},
    {top:1446,bottom:1648,zero:[1552.7,1512],grid:[1.62,0,-1.62],hist:dHist,histUp:dHistUp,histDown:dHistDown,barW:4,
      lines:[[dLine,COLOR.line]],ticks:[1.6,1,0,-1.07,-2.07],tickLabels:["2","1","0","-1","-3"]}
  ],
  extras:function(p,x,y){
    channel(p,x,y,[[159.9,117.84],[164,118.73],[173.8,117.36],[169.8,116.48]],[[164,118.73],[173.8,117.35]],[[159.9,117.84],[169.8,116.46]]);
    p.append("rect").attr("x",x(74.9)).attr("y",y(118.97)).attr("width",x(176.1)-x(74.9)).attr("height",y(118.67)-y(118.97))
      .attr("fill",COLOR.channel).attr("fill-opacity",0.75).attr("stroke",COLOR.mark).attr("stroke-width",2.4);
    ellipseMark(p,x(174.9),y(117.3),27.5,34);
    arrowMark(p,x(176.1),y(117.62),x(182.4),y(118.79),16);
    p.append("rect").attr("x",x(198.4)-51).attr("y",y(117.6)-16).attr("width",102).attr("height",31).attr("fill",COLOR.channel).attr("fill-opacity",0.6);
    txt(p,x(198.4),y(117.6),"target hit",22.5,COLOR.mark,"middle","bold").style("font-family",'"Liberation Sans",sans-serif');
  }
});
backArrow(2386,617);
</script>
</body>
</html>
